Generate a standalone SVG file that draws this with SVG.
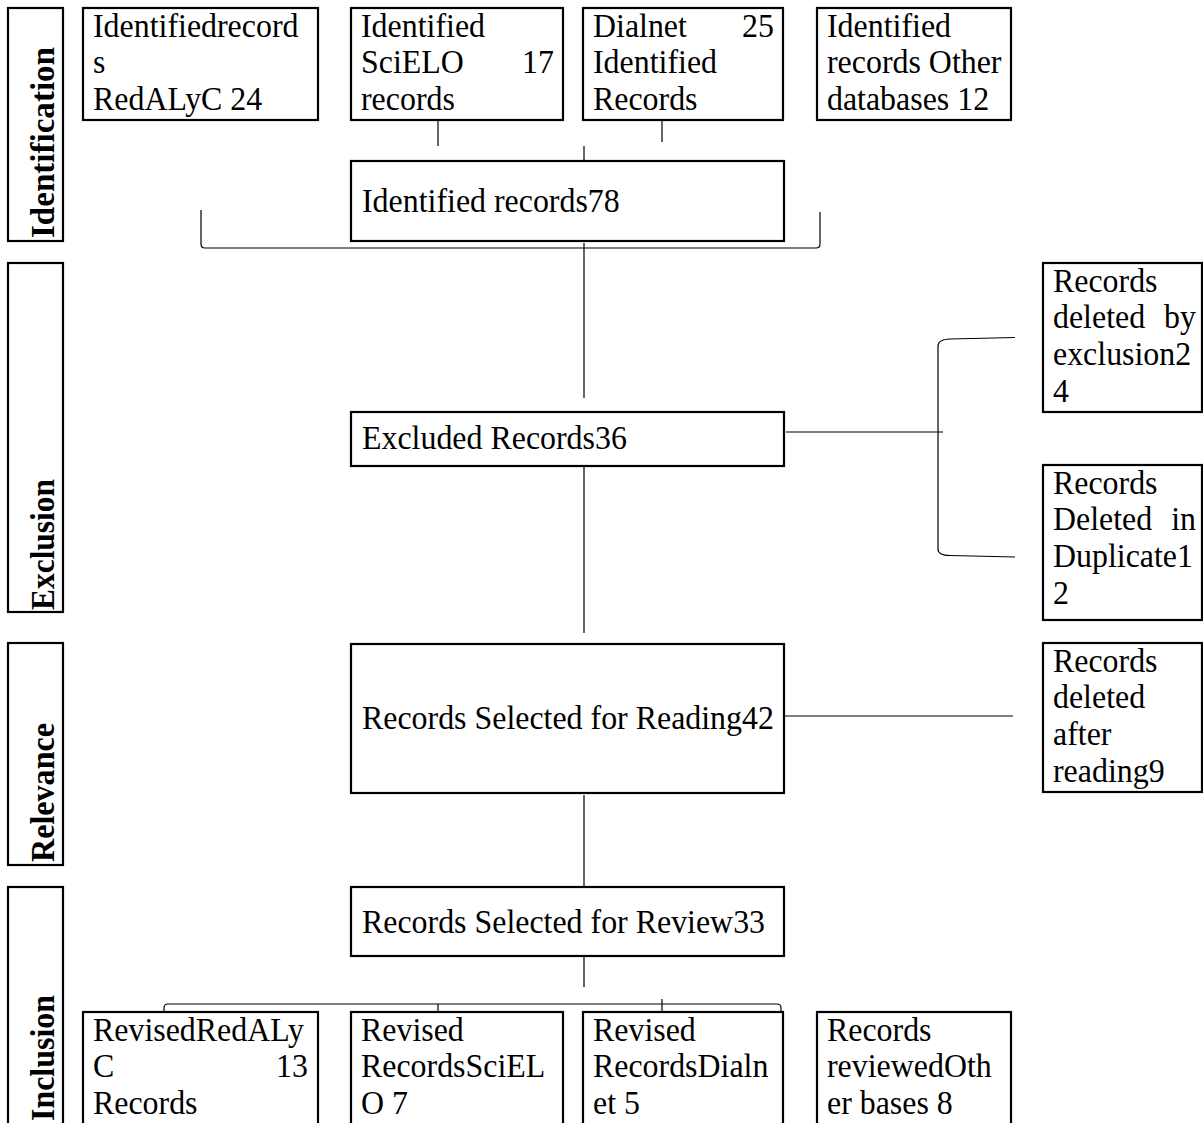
<svg xmlns="http://www.w3.org/2000/svg" width="1203" height="1123" viewBox="0 0 1203 1123">
<style>
.box{fill:#fff;stroke:#000;stroke-width:2.2}
.lbl{fill:none;stroke:#000;stroke-width:2.2}
.t{font-family:"Liberation Serif","Times New Roman",serif;font-size:34.5px;fill:#000;transform-box:fill-box;transform-origin:0% 50%;transform:scaleX(0.925)}
.e{text-anchor:end;transform-origin:100% 50%}
.side{font-family:"Liberation Serif","Times New Roman",serif;font-size:33px;font-weight:bold;fill:#000}
.c{fill:none;stroke:#000;stroke-width:1.2}
</style>
<rect width="1203" height="1123" fill="#fff"/>

<g id="stage-identification">
<rect class="lbl" x="8" y="8" width="55" height="233"/>
<text class="side" transform="translate(54,238) rotate(-90)" textLength="191" lengthAdjust="spacingAndGlyphs">Identification</text>
</g>
<g id="stage-exclusion">
<rect class="lbl" x="8" y="263" width="55" height="349"/>
<text class="side" transform="translate(54,610) rotate(-90)" textLength="131" lengthAdjust="spacingAndGlyphs">Exclusion</text>
</g>
<g id="stage-relevance">
<rect class="lbl" x="8" y="643" width="55" height="222"/>
<text class="side" transform="translate(54,862) rotate(-90)" textLength="139" lengthAdjust="spacingAndGlyphs">Relevance</text>
</g>
<g id="stage-inclusion">
<rect class="lbl" x="8" y="887" width="55" height="260"/>
<text class="side" transform="translate(54,1121) rotate(-90)" textLength="126" lengthAdjust="spacingAndGlyphs">Inclusion</text>
</g>

<g id="connectors">
<path class="c" d="M438,117 V146"/>
<path class="c" d="M662,113 V142"/>
<path class="c" d="M584,146 V184"/>
<path class="c" d="M201,210 V244 Q201,248 205,248 H816 Q820,248 820,244 V212"/>
<path class="c" d="M584,243 V398"/>
<path class="c" d="M786,432 H943"/>
<path class="c" d="M1015,337.5 L950,339 Q938,339.5 938,346 V549 Q938,555.5 950,555.5 L1015,557"/>
<path class="c" d="M584,462 V633"/>
<path class="c" d="M784,716 H1013"/>
<path class="c" d="M584,795 V948"/>
<path class="c" d="M584,957 V987"/>
<path class="c" d="M164,1033 V1008 Q164,1004 168,1004 H777 Q781,1004 781,1008 V1040"/>
<path class="c" d="M438,1004 V1032"/>
<path class="c" d="M662,999 V1040"/>
</g>

<g id="n-redalyc">
<rect class="box" x="83" y="8" width="235" height="112"/>
<text class="t" x="93" y="36.7">Identifiedrecord</text>
<text class="t" x="93" y="73.3">s</text>
<text class="t" x="93" y="110">RedALyC 24</text>
</g>
<g id="n-scielo">
<rect class="box" x="351" y="8" width="212" height="112"/>
<text class="t" x="361" y="36.7">Identified</text>
<text class="t" x="361" y="73.3">SciELO</text>
<text class="t e" x="554" y="73.3">17</text>
<text class="t" x="361" y="110">records</text>
</g>
<g id="n-dialnet">
<rect class="box" x="583" y="8" width="200" height="112"/>
<text class="t" x="593" y="36.7">Dialnet</text>
<text class="t e" x="774" y="36.7">25</text>
<text class="t" x="593" y="73.3">Identified</text>
<text class="t" x="593" y="110">Records</text>
</g>
<g id="n-other">
<rect class="box" x="817" y="8" width="194" height="112"/>
<text class="t" x="827" y="36.7">Identified</text>
<text class="t" x="827" y="73.3">records Other</text>
<text class="t" x="827" y="110">databases 12</text>
</g>

<g id="n-identified">
<rect class="box" x="351" y="161" width="433" height="80"/>
<text class="t" x="362" y="212">Identified records78</text>
</g>

<g id="n-excluded">
<rect class="box" x="351" y="412" width="433" height="54"/>
<text class="t" x="362" y="449">Excluded Records36</text>
</g>

<g id="n-del-exclusion">
<rect class="box" x="1043" y="263" width="159" height="149"/>
<text class="t" x="1053" y="291.7">Records</text>
<text class="t" x="1053" y="328.3">deleted</text>
<text class="t e" x="1196" y="328.3">by</text>
<text class="t" x="1053" y="365">exclusion2</text>
<text class="t" x="1053" y="401.7">4</text>
</g>
<g id="n-del-duplicate">
<rect class="box" x="1043" y="465" width="159" height="155"/>
<text class="t" x="1053" y="493.7">Records</text>
<text class="t" x="1053" y="530.3">Deleted</text>
<text class="t e" x="1196" y="530.3">in</text>
<text class="t" x="1053" y="567">Duplicate1</text>
<text class="t" x="1053" y="603.7">2</text>
</g>

<g id="n-reading">
<rect class="box" x="351" y="644" width="433" height="149"/>
<text class="t" x="362" y="729">Records Selected for Reading42</text>
</g>
<g id="n-del-reading">
<rect class="box" x="1043" y="643" width="159" height="149"/>
<text class="t" x="1053" y="671.7">Records</text>
<text class="t" x="1053" y="708.3">deleted</text>
<text class="t" x="1053" y="745">after</text>
<text class="t" x="1053" y="781.7">reading9</text>
</g>

<g id="n-review">
<rect class="box" x="351" y="887" width="433" height="69"/>
<text class="t" x="362" y="933">Records Selected for Review33</text>
</g>

<g id="n-rev-redalyc">
<rect class="box" x="83" y="1012" width="235" height="140"/>
<text class="t" x="93" y="1040.7">RevisedRedALy</text>
<text class="t" x="93" y="1077.3">C</text>
<text class="t e" x="308" y="1077.3">13</text>
<text class="t" x="93" y="1114">Records</text>
</g>
<g id="n-rev-scielo">
<rect class="box" x="351" y="1012" width="212" height="140"/>
<text class="t" x="361" y="1040.7">Revised</text>
<text class="t" x="361" y="1077.3">RecordsSciEL</text>
<text class="t" x="361" y="1114">O 7</text>
</g>
<g id="n-rev-dialnet">
<rect class="box" x="583" y="1012" width="200" height="140"/>
<text class="t" x="593" y="1040.7">Revised</text>
<text class="t" x="593" y="1077.3">RecordsDialn</text>
<text class="t" x="593" y="1114">et 5</text>
</g>
<g id="n-rev-other">
<rect class="box" x="817" y="1012" width="194" height="140"/>
<text class="t" x="827" y="1040.7">Records</text>
<text class="t" x="827" y="1077.3">reviewedOth</text>
<text class="t" x="827" y="1114">er bases 8</text>
</g>
</svg>
